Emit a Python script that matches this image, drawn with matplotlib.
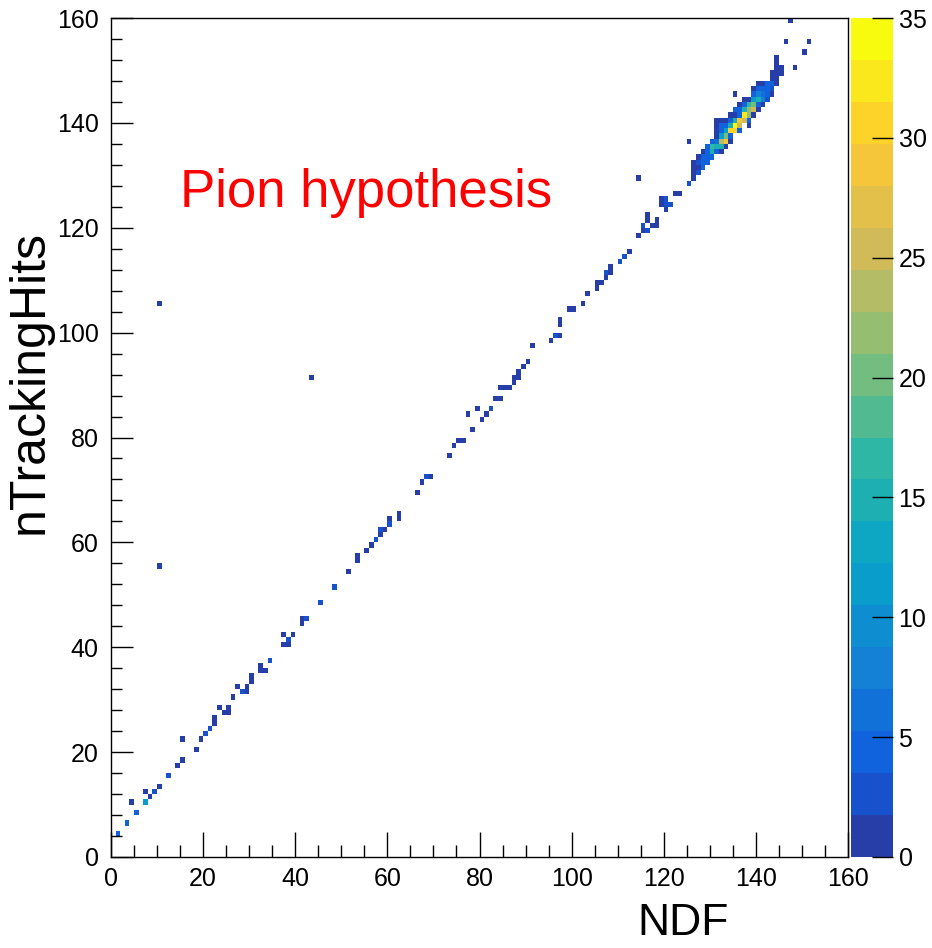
import numpy as np
import matplotlib
matplotlib.use('Agg')
import matplotlib.pyplot as plt
from matplotlib import font_manager
from matplotlib.colors import LinearSegmentedColormap, ListedColormap, BoundaryNorm
from matplotlib.ticker import MultipleLocator

# filled bins of the 2D histogram: NDF bin, nTrackingHits bin, entries
ndf = [1, 3, 5, 4, 7, 7, 8, 9, 10, 12, 14, 15, 15, 10, 10, 18, 19, 20, 21, 22, 22, 23,
       24, 25, 25, 26, 27, 28, 29, 29, 30, 30, 32, 32, 33, 34, 37, 38, 38, 37, 39,
       41, 41, 42, 43, 45, 48, 51, 53, 53, 55, 56, 57, 58, 58, 59, 60, 60, 62, 62,
       66, 67, 68, 69, 73, 74, 75, 76, 77, 78, 79, 80, 81, 82, 83, 84, 84, 85, 86,
       87, 87, 88, 88, 89, 90, 91, 95, 96, 97, 97, 97, 99, 100, 102, 103, 105, 105,
       106, 107, 107, 108, 108, 110, 111, 112, 114, 115, 115, 116, 116, 116, 117,
       118, 118, 114, 119, 119, 120, 120, 121, 120, 122, 123, 125, 125,
       126, 126, 126, 126, 127, 127, 127, 127,
       # dense region
       144, 144, 145, 144, 143, 144, 145, 143, 144,
       140, 141, 142, 143, 144,
       139, 140, 141, 142, 143,
       135, 139, 140, 141, 142, 143,
       137, 138, 139, 140, 141, 142,
       136, 137, 138, 139, 140, 141,
       135, 136, 137, 138, 139, 140,
       134, 135, 136, 137, 138, 139,
       131, 132, 133, 134, 135, 136, 137, 138,
       131, 132, 133, 134, 135, 136, 138,
       131, 132, 133, 134, 135, 136,
       131, 132, 133, 134,
       130, 131, 132, 133, 134,
       129, 130, 131, 132, 133,
       128, 129, 130, 131, 132,
       128, 129, 130,
       128, 129,
       128,
       # stragglers above the band
       146, 151, 150, 147, 148]
nhits = [4, 6, 8, 10, 10, 12, 11, 12, 13, 15, 17, 18, 22, 55, 105, 20, 22, 23, 24, 25, 26, 28,
         27, 27, 28, 30, 32, 31, 31, 32, 33, 34, 36, 35, 35, 37, 40, 40, 41, 42, 42,
         44, 45, 45, 91, 48, 51, 54, 56, 57, 58, 59, 60, 61, 62, 62, 63, 64, 64, 65,
         69, 71, 72, 72, 76, 78, 79, 79, 84, 81, 85, 83, 84, 85, 87, 87, 89, 89, 89,
         90, 91, 91, 92, 93, 94, 97, 98, 99, 99, 101, 102, 104, 104, 105, 107, 108, 109,
         109, 110, 111, 111, 112, 113, 114, 115, 118, 119, 120, 119, 121, 122, 120,
         120, 121, 129, 124, 125, 125, 124, 124, 123, 126, 126, 128, 136,
         129, 130, 131, 132, 130, 131, 132, 133,
         152, 151, 150, 150, 149, 149, 149, 148, 148,
         147, 147, 147, 147, 147,
         146, 146, 146, 146, 146,
         145, 145, 145, 145, 145, 145,
         144, 144, 144, 144, 144, 144,
         143, 143, 143, 143, 143, 143,
         142, 142, 142, 142, 142, 142,
         141, 141, 141, 141, 141, 141,
         140, 140, 140, 140, 140, 140, 140, 140,
         139, 139, 139, 139, 139, 139, 139,
         138, 138, 138, 138, 138, 138,
         137, 137, 137, 137,
         136, 136, 136, 136, 136,
         135, 135, 135, 135, 135,
         134, 134, 134, 134, 134,
         133, 133, 133,
         132, 132,
         131,
         155, 155, 153, 159, 150]
entries = [4, 4, 5, 1, 11, 1, 1, 3, 1, 3, 1, 1, 1, 1, 1, 1, 1, 3, 3, 1, 1, 1,
           1, 1, 1, 1, 1, 3, 1, 1, 1, 1, 1, 1, 1, 3, 1, 1, 3, 1, 1,
           1, 1, 3, 1, 3, 3, 1, 1, 1, 1, 1, 3, 1, 3, 1, 3, 1, 1, 1,
           1, 1, 3, 1, 1, 1, 1, 1, 1, 1, 1, 1, 1, 3, 1, 1, 1, 1, 1,
           1, 1, 1, 1, 1, 1, 1, 1, 3, 1, 1, 1, 1, 1, 1, 1, 1, 1,
           1, 1, 3, 1, 1, 3, 3, 1, 1, 1, 3, 3, 1, 1, 1,
           1, 1, 1, 1, 1, 3, 3, 3, 1, 1, 1, 3, 1,
           1, 1, 1, 1, 3, 1, 3, 1,
           1, 1, 1, 1, 1, 1, 1, 1, 1,
           1, 1, 4, 4, 1,
           1, 4, 5, 5, 3,
           1, 5, 8, 6, 4, 1,
           1, 1, 12, 15, 8, 3,
           1, 4, 16, 20, 5, 1,
           4, 5, 14, 22, 25, 1,
           1, 1, 5, 33, 21, 1,
           1, 1, 1, 4, 14, 29, 25, 4,
           1, 4, 5, 14, 35, 25, 1,
           1, 4, 12, 30, 30, 4,
           1, 11, 20, 5,
           4, 6, 24, 28, 1,
           4, 16, 15, 15, 1,
           1, 4, 14, 5, 1,
           4, 4, 5,
           4, 4,
           4,
           1, 1, 1, 1, 1]

bin_edges = np.arange(0, 161)
z_levels = np.linspace(0, 35, 21)
x_ticks = np.arange(0, 161, 20)
y_ticks = np.arange(0, 161, 20)
z_ticks = np.arange(0, 36, 5)

# ROOT kBird palette, 20 contour levels
stops = [0.0, 0.125, 0.25, 0.375, 0.5, 0.625, 0.75, 0.875, 1.0]
red = [0.2082, 0.0592, 0.0780, 0.0232, 0.1802, 0.5301, 0.8186, 0.9956, 0.9764]
green = [0.1664, 0.3599, 0.5041, 0.6419, 0.7178, 0.7492, 0.7328, 0.7862, 0.9832]
blue = [0.5293, 0.8684, 0.8385, 0.7914, 0.6425, 0.4662, 0.3499, 0.1968, 0.0539]
bird = LinearSegmentedColormap.from_list(
    'bird', [(s, (r, g, b)) for s, r, g, b in zip(stops, red, green, blue)], N=255)
ncont = len(z_levels) - 1
cmap = ListedColormap([bird((i + 0.99) / ncont) for i in range(ncont)])
norm = BoundaryNorm(z_levels, ncont)

names = {f.name for f in font_manager.fontManager.ttflist}
label_font = 'Liberation Sans Narrow' if 'Liberation Sans Narrow' in names else 'Liberation Sans'
plt.rcParams['font.family'] = 'Liberation Sans'

fig = plt.figure(figsize=(9.32, 9.48), dpi=100)
ax = fig.add_axes([0.1191, 0.096, 0.7908, 0.885])
cax = fig.add_axes([0.9131, 0.096, 0.045, 0.885])

h = ax.hist2d(np.array(ndf) + 0.5, np.array(nhits) + 0.5, bins=[bin_edges, bin_edges],
              weights=entries, cmap=cmap, norm=norm, cmin=0.5)

ax.set_xlim(0, 160)
ax.set_ylim(0, 160)
ax.set_xticks(x_ticks)
ax.set_yticks(y_ticks)
ax.xaxis.set_minor_locator(MultipleLocator(5))
ax.yaxis.set_minor_locator(MultipleLocator(4))
ax.tick_params(which='both', direction='in', top=False, right=False, width=1.0, labelsize=18)
ax.tick_params(axis='x', which='major', length=18, pad=7)
ax.tick_params(axis='x', which='minor', length=9)
ax.tick_params(axis='y', which='major', length=16, pad=9)
ax.tick_params(axis='y', which='minor', length=8)
for sp in ax.spines.values():
    sp.set_linewidth(1.0)

ax.set_xlabel('NDF', fontsize=32, family=label_font)
ax.xaxis.set_label_coords(0.776, -0.079)
ax.xaxis.label.set_va('center')
ax.set_ylabel('nTrackingHits', fontsize=36, family=label_font)
ax.yaxis.set_label_coords(-0.110, 0.566)
ax.yaxis.label.set_va('center')

ax.text(15, 124, 'Pion hypothesis', color='red', fontsize=38, va='baseline', ha='left')

cb = fig.colorbar(h[3], cax=cax, ticks=z_ticks)
cb.outline.set_visible(False)
cax.tick_params(direction='in', length=15, width=1.0, labelsize=18, pad=4)
cax.minorticks_off()

fig.savefig('out.png', dpi=100)
